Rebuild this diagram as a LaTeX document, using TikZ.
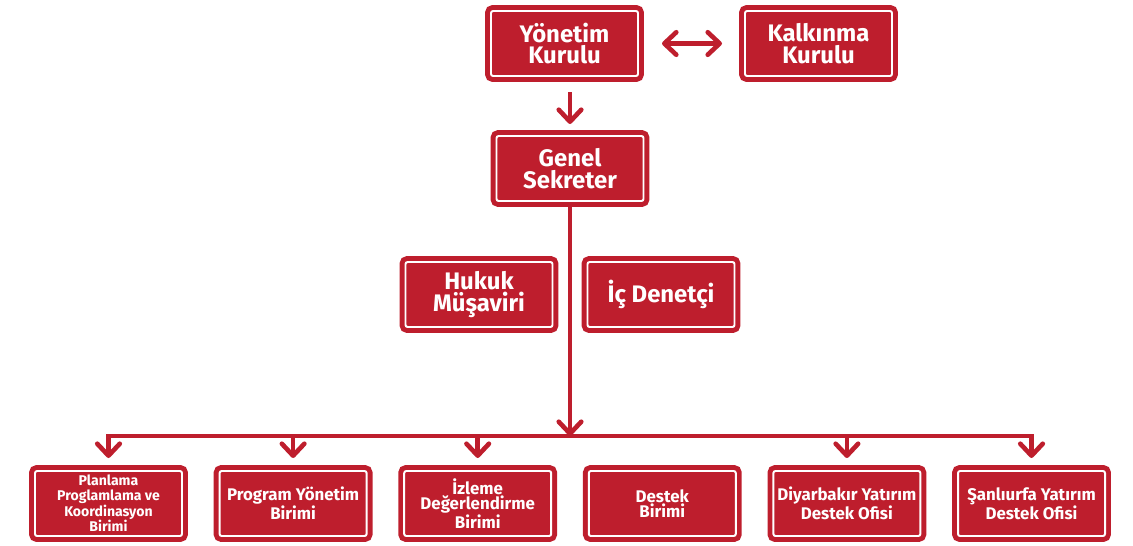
\documentclass[tikz,border=0pt]{standalone}
\usepackage{fontspec}
\setmainfont{Fira Sans}
\usetikzlibrary{positioning, arrows.meta, backgrounds}
\definecolor{boxred}{RGB}{190,30,45}
\tikzset{
    unit/.style={
        rectangle, draw=boxred, double=white, line width=3.5pt, double distance=1.4pt,
        fill=boxred, rounded corners=1.5pt, outer sep=0pt, inner sep=0pt,
        minimum width=3.675cm, minimum height=1.625cm, % outer edge comes 6px further out
        align=center, text=white, font=\bfseries\fontsize{17}{15.5}\selectfont
    },
    subunit/.style={unit, font=\bfseries\fontsize{12}{11}\selectfont},
    link/.style={draw=boxred, line width=3.3pt},
    tip/.style={-{Straight Barb[length=8.5pt, width=16pt, round]}},
    twotip/.style={{Straight Barb[length=8.5pt, width=16pt, round]}-{Straight Barb[length=8.5pt, width=16pt, round]}}
}
\begin{document}
\begin{tikzpicture}
    \useasboundingbox (0,0) rectangle (28.325,-13.625);

    % Board and management
    \node[unit] (yon) at (14.1125,-1.0875) {Yönetim\\Kurulu};
    \node[unit, right=2.675cm of yon] (kalk) {Kalkınma\\Kurulu};
    \node[unit, below=1.5cm of yon, xshift=0.1375cm] (gensek) {Genel\\Sekreter};

    % Advisors beside the main line
    \node[unit, below=1.525cm of gensek, xshift=-2.275cm] (hukuk) {Hukuk\\Müşaviri};
    \node[unit, below=1.525cm of gensek, xshift=2.275cm] (icden) {İç Denetçi};

    % Units
    \node[subunit, below=6.75cm of gensek, xshift=-11.5375cm, font=\bfseries\fontsize{10}{10.2}\selectfont] (plan) {Planlama\\Proglamlama ve\\Koordinasyon\\Birimi};
    \node[subunit, right=0.94cm of plan] (progyon) {Program Yönetim\\Birimi};
    \node[subunit, right=0.94cm of progyon] (izleme) {İzleme\\Değerlendirme\\Birimi};
    \node[subunit, right=0.94cm of izleme] (destek) {Destek\\Birimi};
    \node[subunit, right=0.94cm of destek] (diyar) {Diyarbakır Yatırım\\Destek Ofisi};
    \node[subunit, right=0.94cm of diyar] (urfa) {Şanlıurfa Yatırım\\Destek Ofisi};

    % Connectors
    \begin{scope}[on background layer]
        \coordinate[below=5.875cm of gensek.south] (bus);
        \draw[link, twotip, shorten <=0.6cm, shorten >=0.575cm] (yon.east) -- (kalk.west);
        \draw[link, tip, shorten <=0.4cm, shorten >=0.3cm] (yon.south -| gensek.north) -- (gensek.north);
        \draw[link, tip] (gensek.south) -- (bus);
        \draw[link, line cap=rect] (bus -| plan.north) -- (bus -| urfa.north);
        \draw[link, tip, shorten >=0.325cm] (bus -| plan.north) -- (plan.north);
        \draw[link, tip, shorten >=0.325cm] (bus -| progyon.north) -- (progyon.north);
        \draw[link, tip, shorten >=0.325cm] (bus -| izleme.north) -- (izleme.north);
        \draw[link, tip, shorten >=0.325cm] (bus -| diyar.north) -- (diyar.north);
        \draw[link, tip, shorten >=0.325cm] (bus -| urfa.north) -- (urfa.north);
    \end{scope}
\end{tikzpicture}
\end{document}
